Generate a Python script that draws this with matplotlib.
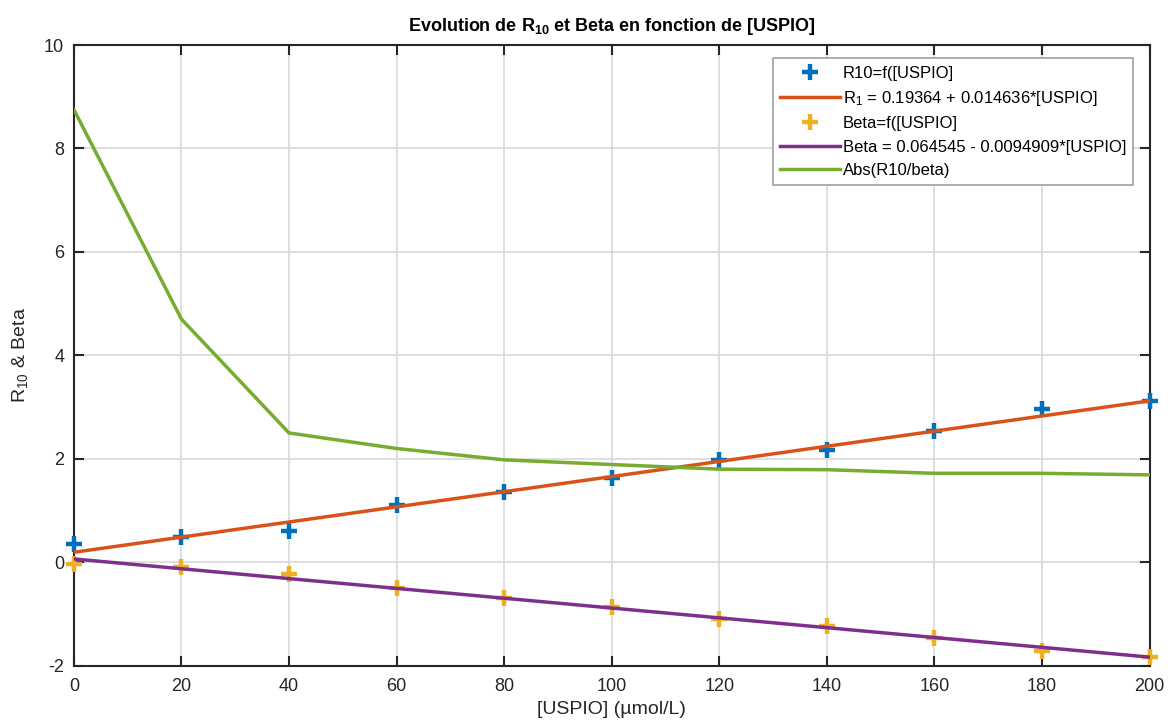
# R10 and Beta vs [USPIO], MATLAB-like look
import matplotlib
matplotlib.use("Agg")
import matplotlib.pyplot as plt
import numpy as np

plt.rcParams['font.family'] = ['Liberation Sans', 'DejaVu Sans']
plt.rcParams['mathtext.default'] = 'regular'
plt.rcParams['axes.unicode_minus'] = False

# concentrations (umol/L)
uspio = [0, 20, 40, 60, 80, 100, 120, 140, 160, 180, 200]
r10 = [0.35, 0.48, 0.61, 1.11, 1.36, 1.63, 1.97, 2.18, 2.54, 2.96, 3.12]
beta = [-0.03, -0.10, -0.23, -0.50, -0.69, -0.87, -1.10, -1.23, -1.46, -1.71, -1.84]
ratio = [8.75, 4.70, 2.50, 2.20, 1.98, 1.89, 1.80, 1.79, 1.72, 1.72, 1.69]

# linear fit coefficients (from legend)
r1_fit = (0.19364, 0.014636)
beta_fit = (0.064545, -0.0094909)

x = np.array(uspio)

fig = plt.figure(figsize=(11.73, 7.26), dpi=100)
ax = fig.add_axes([0.063, 0.083, 0.917, 0.855])

ax.plot(uspio, r10, '+', color='#0072BD', markersize=12, markeredgewidth=3.2,
        label='R10=f([USPIO]', clip_on=False, zorder=3)
ax.plot(x, r1_fit[0] + r1_fit[1] * x, color='#D95319', lw=2.5,
        label='$R_1$ = 0.19364 + 0.014636*[USPIO]', zorder=3)
ax.plot(uspio, beta, '+', color='#EDB120', markersize=12, markeredgewidth=3.2,
        label='Beta=f([USPIO]', clip_on=False, zorder=3)
ax.plot(x, beta_fit[0] + beta_fit[1] * x, color='#7E2F8E', lw=2.5,
        label='Beta = 0.064545 - 0.0094909*[USPIO]', zorder=3)
ax.plot(uspio, ratio, color='#77AC30', lw=2.5, label='Abs(R10/beta)', zorder=3)

ax.set_xlim(0, 200)
ax.set_ylim(-2, 10)
ax.set_xticks(range(0, 201, 20))
ax.set_yticks(range(-2, 11, 2))
ax.grid(True, color='#d9d9d9', lw=1.2)
ax.set_axisbelow(True)
ax.tick_params(direction='in', length=7, width=1.5, top=True, right=True,
               labelsize=13, colors='#262626')
ax.tick_params(axis='x', pad=9)
ax.tick_params(axis='y', pad=7)
for s in ax.spines.values():
    s.set_linewidth(1.5)
    s.set_color('#262626')

ax.set_xlabel('[USPIO] (µmol/L)', fontsize=14, color='#262626', labelpad=4)
ax.set_ylabel('$R_{10}$ & Beta', fontsize=14, color='#262626', labelpad=10)
ax.set_title('Evolution de $R_{10}$ et Beta en fonction de [USPIO]',
             fontsize=13, fontweight='bold', pad=10)

leg = ax.legend(loc='upper right', bbox_to_anchor=(0.985, 0.979), fontsize=12,
                fancybox=False, framealpha=1, edgecolor='#a0a0a0',
                handlelength=3.6, handletextpad=0.15, borderpad=0.45,
                labelspacing=0.5, borderaxespad=0)
leg.get_frame().set_linewidth(1.2)

fig.savefig('out.png', dpi=100)
